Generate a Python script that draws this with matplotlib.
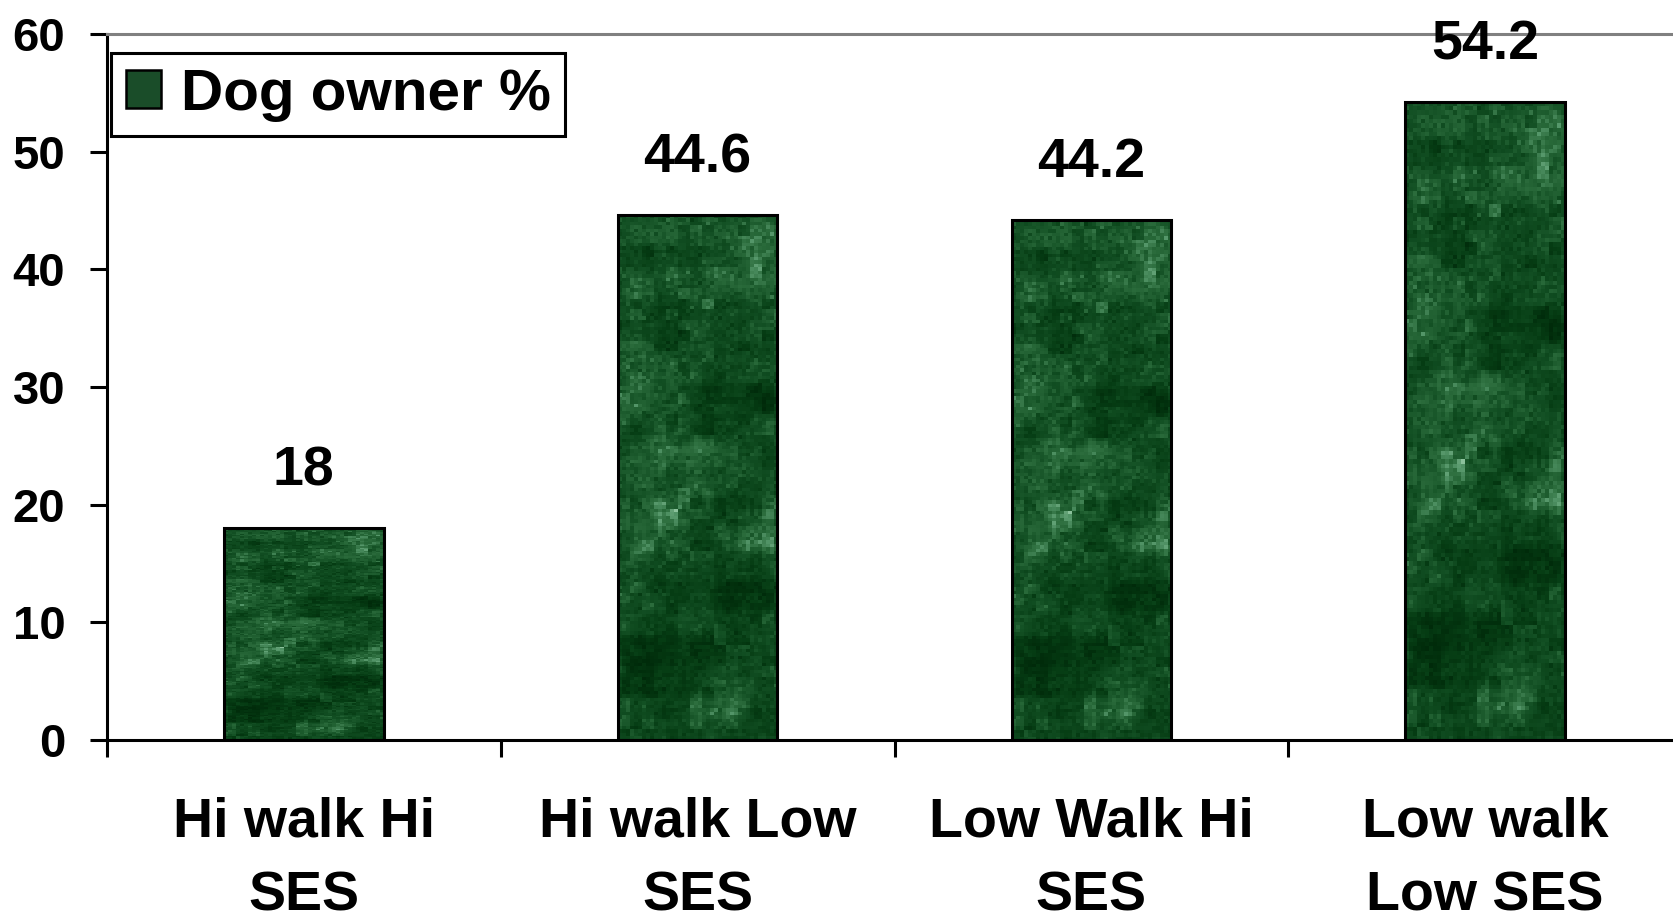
import numpy as np
import matplotlib
matplotlib.use("Agg")
import matplotlib.pyplot as plt
from matplotlib.colors import LinearSegmentedColormap
from matplotlib.patches import Patch

plt.rcParams['font.family'] = ['Liberation Sans', 'DejaVu Sans']
plt.rcParams['font.weight'] = 'bold'

categories = ["Hi walk Hi\nSES", "Hi walk Low\nSES", "Low Walk Hi\nSES", "Low walk\nLow SES"]
dog_owner_pct = [18, 44.6, 44.2, 54.2]
series_name = "Dog owner %"
y_ticks = [0, 10, 20, 30, 40, 50, 60]

tick_size = 34
label_size = 40
legend_size = 42
bar_w = 0.405
lw = 2.2

# marbled green fill, same picture stretched into every bar
rng = np.random.default_rng(11)


def box_blur(a, k):
    if k < 2:
        return a
    ker = np.ones(k) / k
    a = np.apply_along_axis(lambda r: np.convolve(r, ker, mode='same'), 1, a)
    a = np.apply_along_axis(lambda c: np.convolve(c, ker, mode='same'), 0, a)
    return a


def marble(h, w):
    out = np.zeros((h, w))
    for cell, amp in [(20, 1.0), (8, 0.7), (3, 0.5), (1, 0.45)]:
        g = rng.standard_normal((h // cell + 2, w // cell + 2))
        up = np.kron(g, np.ones((cell, cell)))[:h, :w]
        out += amp * box_blur(up, max(cell // 2, 1))
    out -= out.min()
    out /= out.max()
    return out ** 1.4


greens = LinearSegmentedColormap.from_list(
    "greens", ["#002a0a", "#063d14", "#124f23", "#2a6b3b", "#55976a", "#8cc29c"])
tex = marble(150, 40)

fig = plt.figure(figsize=(16.73, 9.19), dpi=100)
ax = fig.add_axes([107 / 1673, 179 / 919, 1575 / 1673, 706 / 919])

x = np.arange(len(categories))
for xi, v in zip(x, dog_owner_pct):
    ax.imshow(tex, cmap=greens, extent=(xi - bar_w / 2, xi + bar_w / 2, 0, v),
              aspect='auto', interpolation='nearest', zorder=2, vmin=0, vmax=1)
bars = ax.bar(x, dog_owner_pct, width=bar_w, facecolor='none',
              edgecolor='black', linewidth=lw, zorder=3)

for xi, v in zip(x, dog_owner_pct):
    ax.annotate(f"{v:g}", (xi, v), xytext=(0, 31), textcoords='offset points',
                ha='center', va='baseline', fontsize=label_size, fontweight='bold')

ax.set_xlim(-0.5, 3.5)
ax.set_ylim(0, 60)
ax.set_yticks(y_ticks)
ax.tick_params(axis='y', labelsize=tick_size, length=12, width=lw, pad=18, direction='out')

# category boundaries carry the ticks, names sit under the bars
ax.set_xticks(np.arange(-0.5, 4, 1))
ax.set_xticklabels([])
ax.tick_params(axis='x', which='major', length=12, width=lw, direction='out')
ax.set_xticks(x, minor=True)
ax.set_xticklabels(categories, minor=True, fontsize=label_size, fontweight='bold',
                   linespacing=1.55)
ax.tick_params(axis='x', which='minor', length=0, pad=41)

for s in ['left', 'bottom']:
    ax.spines[s].set_linewidth(lw)
ax.spines['top'].set_color('#808080')
ax.spines['top'].set_linewidth(lw)
ax.spines['right'].set_visible(False)

handle = Patch(facecolor='#1a4d29', edgecolor='black', linewidth=1.8)
leg = ax.legend([handle], [series_name], loc='upper left',
                bbox_to_anchor=(111 / 1673, 1 - 53 / 919), bbox_transform=fig.transFigure,
                prop={'size': legend_size, 'weight': 'bold'}, fancybox=False,
                framealpha=1, edgecolor='black', borderpad=0.25,
                handlelength=0.6, handleheight=0.6, handletextpad=0.35,
                borderaxespad=0)
leg.get_frame().set_linewidth(lw)

fig.savefig("out.png", dpi=100)
